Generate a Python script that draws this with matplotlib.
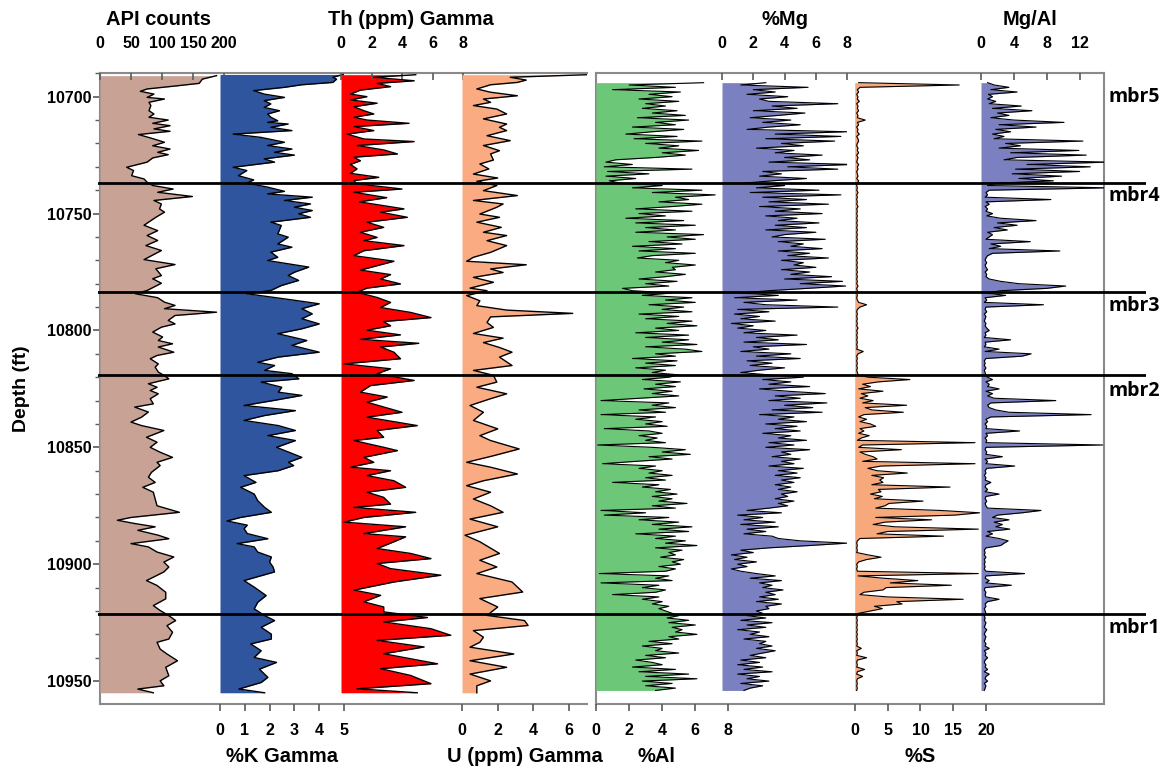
import matplotlib.pyplot as plt
import numpy as np
from matplotlib.transforms import blended_transform_factory

plt.rcParams['font.family'] = ['Liberation Sans', 'DejaVu Sans']
plt.rcParams['font.weight'] = 'bold'

api_depth = [10691, 10692.5, 10694.3, 10695.3, 10696.7, 10697.7, 10698.9, 10700.3, 10701, 10702.4,
             10703.8, 10706, 10707.4, 10708.8, 10710, 10711.4, 10712.4, 10713.8, 10714.8, 10716.2,
             10717.7, 10719.5, 10721, 10722.4, 10723.8, 10724.8, 10726.2, 10728, 10730.2, 10731.6,
             10733.8, 10735.2, 10736.6, 10738, 10739.5, 10740.9, 10742.7, 10744.4, 10745.9, 10748,
             10749.4, 10751.6, 10755, 10757.3, 10759.4, 10761.5, 10763.7, 10765.8, 10769.7, 10771.8,
             10773.6, 10776.5, 10777.9, 10779.8, 10782.9, 10784.3, 10786, 10787.9, 10789.3, 10790.7,
             10792.2, 10793.6, 10795.7, 10797.2, 10798.6, 10800.7, 10802.8, 10804.3, 10805.7, 10807.1,
             10809.3, 10810.7, 10812.1, 10814.3, 10815.7, 10817.8, 10819.2, 10820.7, 10822.8, 10824.3,
             10825.7, 10827.1, 10829.2, 10831.4, 10832.8, 10834.9, 10837.1, 10839.2, 10840.7, 10842.8,
             10845.7, 10847.8, 10850, 10852.1, 10854.3, 10856.4, 10857.8, 10860.7, 10862.8, 10865,
             10867.1, 10869.2, 10872.1, 10875, 10877.8, 10880, 10881.2, 10882.6, 10884, 10885.5,
             10887.6, 10889.1, 10891.2, 10892.6, 10894.8, 10896.9, 10899.1, 10901.2, 10903.3, 10907,
             10909.1, 10912, 10914.8, 10917.7, 10919.8, 10922, 10924.1, 10926.3, 10929.1, 10932,
             10933.4, 10936.3, 10938.4, 10941.3, 10944.1, 10947.7, 10949.9, 10952, 10953.4, 10955]
api = [188, 165, 160, 126, 76, 65, 87, 76, 104, 79,
       82, 79, 87, 79, 110, 85, 113, 87, 113, 62,
       82, 104, 85, 113, 93, 110, 85, 76, 43, 54,
       51, 71, 76, 85, 118, 93, 149, 87, 99, 96,
       104, 90, 71, 93, 76, 93, 74, 99, 71, 121,
       90, 99, 85, 99, 76, 57, 93, 104, 121, 104,
       188, 121, 110, 121, 99, 85, 101, 94, 117, 94,
       119, 92, 81, 94, 89, 94, 103, 111, 78, 92,
       81, 94, 81, 86, 56, 78, 67, 50, 67, 103,
       75, 92, 81, 97, 117, 92, 97, 83, 78, 89,
       69, 86, 89, 92, 128, 50, 28, 56, 89, 61,
       94, 111, 50, 78, 92, 119, 103, 111, 103, 75,
       92, 106, 106, 86, 97, 111, 122, 108, 117, 111,
       92, 97, 108, 125, 106, 111, 97, 103, 61, 86]

k_depth = [10690.5, 10691.7, 10692.5, 10693.9, 10694.9, 10696, 10697.4, 10698.9, 10700.3, 10701.7,
           10703.1, 10704.6, 10706, 10707.4, 10708.8, 10710.3, 10711, 10711.7, 10713.1, 10714.5,
           10716, 10717.4, 10719.5, 10720.9, 10722.4, 10723.8, 10725, 10726.6, 10728, 10730.2,
           10731.6, 10733.8, 10735.6, 10737, 10738.7, 10740.5, 10741.6, 10743, 10744.4, 10745.9,
           10747.3, 10748.7, 10750.1, 10751.6, 10753.7, 10755.1, 10758.7, 10760.1, 10763, 10764.4,
           10766.5, 10768.7, 10770.1, 10772.9, 10775.1, 10776.5, 10778.6, 10780.8, 10782.9, 10784.3,
           10786.5, 10788.6, 10790.7, 10792.9, 10795, 10797.2, 10799.3, 10801.4, 10804.3, 10806.4,
           10809.3, 10811.4, 10813.6, 10815, 10817.1, 10818.5, 10820.7, 10822.1, 10824.3, 10826.4,
           10827.8, 10830, 10832.1, 10834.3, 10836.4, 10838.5, 10840.7, 10842.8, 10845, 10847.1,
           10850, 10854.3, 10856.4, 10857.8, 10860, 10862.1, 10865, 10867.1, 10870, 10872.8,
           10875.7, 10877.8, 10880, 10881.5, 10883.3, 10884.8, 10886.9, 10889.1, 10891.2, 10892.6,
           10894.8, 10896.9, 10899.1, 10901.2, 10903.3, 10907, 10909.8, 10913.4, 10916.3, 10919.1,
           10922, 10924.1, 10927, 10929.9, 10932, 10934.1, 10937, 10939.9, 10942, 10944.9,
           10948.4, 10950.6, 10953.4, 10955]
k_pct = [4.97, 4.55, 4.7, 4.55, 3.3, 2.6, 1.36, 1.78, 2.6, 1.78,
         2.05, 1.78, 2.4, 1.92, 2.05, 2.33, 1.92, 2.75, 2.05, 2.9,
         0.53, 1.64, 2.6, 1.92, 2.9, 2.2, 3.0, 1.78, 2.2, 0.53,
         1.08, 0.74, 1.36, 1.08, 1.92, 2.6, 1.92, 3.72, 2.6, 3.65,
         3.0, 3.72, 3.17, 3.65, 2.05, 2.47, 2.33, 2.75, 2.33, 2.9,
         2.05, 2.33, 1.92, 3.58, 3.0, 2.75, 3.17, 2.47, 2.05, 1.08,
         2.6, 4.0, 3.3, 3.72, 3.3, 4.0, 3.3, 2.33, 3.5, 2.9,
         4.0, 2.35, 1.52, 2.2, 1.8, 2.9, 3.18, 1.66, 2.49, 2.35,
         3.3, 2.14, 0.97, 3.04, 1.8, 0.97, 2.35, 3.04, 1.93, 3.04,
         2.28, 3.3, 2.76, 2.97, 2.35, 0.97, 1.45, 0.83, 1.38, 1.52,
         1.8, 2.07, 0.83, 0.28, 1.1, 0.97, 1.1, 1.93, 0.69, 1.38,
         1.52, 2.07, 2.0, 2.14, 2.2, 0.97, 1.38, 1.86, 1.52, 1.38,
         1.8, 2.2, 1.66, 2.07, 2.07, 1.24, 1.66, 1.38, 2.28, 1.59,
         1.93, 1.66, 0.76, 1.8]

th_depth = [10690.6, 10691.7, 10693.2, 10694.3, 10695.7, 10697.2, 10698.9, 10700, 10701.4, 10702.8,
            10704.3, 10706, 10707.4, 10708.8, 10710, 10711.4, 10712.8, 10714.5, 10716, 10718.1,
            10719.2, 10720.9, 10722.8, 10724.5, 10725.9, 10727.4, 10729, 10730.9, 10732.8, 10734.5,
            10735.9, 10737.3, 10739.5, 10740.9, 10743.2, 10745, 10748, 10749.4, 10751.6, 10753.7,
            10755.9, 10758, 10760.2, 10761.6, 10763.7, 10765.9, 10768, 10770.4, 10772.3, 10774.2,
            10776.1, 10778, 10780.1, 10781.9, 10783.7, 10785.9, 10788, 10790.2, 10792.3, 10794.5,
            10796.2, 10798, 10799.9, 10801.9, 10803.8, 10805.5, 10807.1, 10809.3, 10812.1, 10814.3,
            10816.4, 10818.5, 10821.4, 10823.6, 10826.4, 10828.5, 10830.7, 10835, 10837.1, 10840.7,
            10842.8, 10845.7, 10847.1, 10850, 10851.4, 10854.3, 10856.4, 10858.5, 10860, 10862.1,
            10864.3, 10867.1, 10869.2, 10871.4, 10874.3, 10875.7, 10877.8, 10880, 10882, 10884,
            10886.9, 10888.3, 10890.4, 10893.3, 10895.4, 10897.6, 10899.7, 10901.9, 10904.7, 10907.6,
            10911.1, 10913.3, 10916.1, 10918.3, 10920.4, 10922.8, 10924.7, 10927.6, 10930.4, 10932.6,
            10935.4, 10938.3, 10942.6, 10944.7, 10947.6, 10951.1, 10953.3, 10955]
th_ppm = [4.9, 2.15, 4.8, 2.37, 3.25, 1.27, 0.62, 1.7, 0.62, 2.37,
          0.84, 1.5, 2.15, 0.84, 1.7, 4.46, 0.84, 2.15, 0.4, 1.5,
          4.8, 1.05, 2.81, 3.7, 0.84, 1.27, 0.62, 1.05, 0.62, 2.48,
          0.84, 1.05, 4.0, 0.84, 3.0, 1.2, 4.13, 2.6, 4.35, 1.7,
          2.8, 1.27, 2.37, 1.5, 4.13, 1.5, 0.84, 3.47, 2.37, 1.27,
          3.25, 2.6, 3.9, 1.7, 1.05, 2.37, 3.25, 2.6, 4.57, 5.9,
          2.8, 3.25, 1.7, 3.9, 1.27, 5.1, 2.6, 3.47, 3.9, 0.2,
          3.25, 2.37, 4.8, 1.93, 1.27, 3.03, 1.7, 4.0, 1.7, 5.0,
          2.37, 2.8, 0.84, 2.8, 3.7, 1.5, 2.15, 0.62, 3.25, 1.7,
          3.47, 4.24, 1.7, 2.8, 3.25, 0.84, 4.9, 1.5, 0.2, 4.24,
          1.5, 4.24, 3.47, 2.37, 4.57, 5.9, 2.37, 3.25, 6.55, 3.47,
          0.84, 2.6, 1.5, 2.8, 2.8, 5.67, 2.8, 5.9, 7.2, 2.37,
          5.45, 2.8, 6.33, 2.6, 4.57, 5.9, 1.05, 5.0]

u_depth = [10690.6, 10691.7, 10692.9, 10693.9, 10694.9, 10696.7, 10698.1, 10699.6, 10701, 10702.4,
           10703.8, 10705.3, 10707.4, 10709.5, 10711.7, 10713.1, 10714.5, 10716.7, 10718.8, 10720.9,
           10723.1, 10724.5, 10727.1, 10728.8, 10730.9, 10733.1, 10734.8, 10736.2, 10738, 10740.2,
           10742.3, 10744.4, 10745.9, 10747.3, 10750.2, 10751.6, 10753.7, 10755.9, 10758, 10759.4,
           10761.6, 10763.7, 10766.6, 10768.7, 10770.4, 10771.9, 10773.7, 10775.2, 10777.3, 10779.4,
           10781.9, 10783, 10785.1, 10787.3, 10789.4, 10791.3, 10792.7, 10794.2, 10796.6, 10798.7,
           10801.3, 10803.3, 10805.2, 10807.3, 10809.3, 10811.4, 10815, 10817.1, 10819.2, 10822.1,
           10824.3, 10827.1, 10829.2, 10832.1, 10835, 10838.5, 10842.1, 10845, 10847.1, 10850.7,
           10853.6, 10856.4, 10858.5, 10861.4, 10864.3, 10866.4, 10869.2, 10872.1, 10875, 10877.8,
           10880.7, 10884, 10887.6, 10890.4, 10895.4, 10898.3, 10901.2, 10904, 10907.6, 10911.9,
           10914.7, 10918.3, 10921.9, 10924.1, 10926.2, 10928.4, 10931.2, 10933.4, 10935.5, 10938.4,
           10941.3, 10944.1, 10947, 10949.9, 10952, 10955]
u_ppm = [7.0, 2.7, 3.6, 3.1, 1.6, 0.83, 1.6, 3.1, 1.2, 1.6,
         0.64, 1.95, 2.5, 1.2, 2.5, 2.1, 2.5, 1.4, 2.7, 1.2,
         2.1, 1.6, 1.76, 1.0, 1.5, 0.64, 2.0, 0.83, 1.95, 1.2,
         3.1, 0.64, 2.3, 1.95, 1.0, 2.1, 0.83, 2.2, 1.2, 2.5,
         1.4, 2.5, 1.6, 0.64, 0.26, 3.6, 1.6, 2.3, 0.64, 1.76,
         0.45, 1.4, 0.26, 1.0, 0.83, 2.5, 6.2, 1.6, 1.4, 1.76,
         0.64, 2.3, 1.2, 2.1, 2.8, 2.1, 2.8, 0.64, 1.76, 1.95,
         0.83, 2.5, 1.6, 0.45, 1.2, 0.64, 2.0, 1.0, 1.6, 3.2,
         1.76, 0.26, 1.6, 3.1, 1.2, 0.26, 1.6, 0.64, 1.6, 2.3,
         0.45, 2.0, 0.17, 1.0, 2.1, 1.0, 1.95, 0.83, 2.8, 3.4,
         1.0, 2.0, 1.4, 3.5, 3.7, 0.64, 1.2, 1.0, 0.45, 2.9,
         0.45, 2.5, 0.45, 1.6, 0.83, 0.83]

# ---- XRF chemostratigraphy, one reading per foot from 10694 to 10954 ft ----
xrf_depth = np.arange(10694, 10955)
al_pct = [6.5, 2.0, 4.8, 1.0, 5.1, 3.2, 4.6, 2.6, 5.0, 3.0,
          4.2, 2.8, 4.9, 3.4, 5.4, 2.5, 5.6, 3.6, 4.8, 2.2,
          5.3, 3.4, 1.8, 4.9, 2.3, 6.4, 3.0, 5.0, 3.8, 6.2,
          4.0, 5.4, 3.6, 1.2, 0.6, 2.2, 0.5, 5.8, 0.7, 3.2,
          0.6, 2.4, 0.8, 1.5, 4.0, 2.2, 6.4, 3.4, 7.2, 4.8,
          5.6, 3.8, 6.4, 4.6, 2.4, 5.8, 2.6, 4.2, 1.8, 5.3,
          2.4, 6.0, 3.0, 4.8, 2.4, 6.5, 4.3, 6.0, 3.2, 5.2,
          2.2, 4.8, 2.6, 6.0, 3.4, 2.5, 5.0, 4.2, 6.0, 4.6,
          4.8, 3.6, 5.4, 4.2, 2.6, 4.9, 3.0, 4.4, 1.6, 2.2,
          4.6, 2.8, 5.8, 4.2, 6.0, 3.2, 5.3, 4.0, 5.8, 2.6,
          5.0, 3.0, 5.8, 4.3, 6.1, 3.6, 5.0, 2.4, 5.6, 3.0,
          5.6, 4.0, 6.1, 3.0, 5.4, 6.4, 3.6, 4.8, 2.2, 4.9,
          3.0, 4.8, 2.4, 4.2, 3.4, 5.0, 4.4, 2.8, 5.1, 3.6,
          4.8, 2.9, 4.6, 3.4, 5.0, 2.6, 0.3, 4.4, 3.4, 4.8,
          2.6, 4.2, 0.3, 3.6, 2.4, 4.0, 3.0, 4.3, 0.5, 3.2,
          4.0, 2.6, 3.7, 3.0, 4.2, 0.1, 3.4, 5.4, 4.0, 5.7,
          3.2, 4.6, 2.4, 0.4, 3.6, 2.6, 4.0, 3.2, 4.6, 3.0,
          4.2, 1.0, 3.8, 2.8, 4.5, 3.6, 4.9, 3.4, 4.6, 3.8,
          5.5, 3.4, 4.8, 0.3, 3.0, 0.5, 4.4, 2.6, 5.0, 3.4,
          5.8, 3.8, 5.6, 2.4, 4.8, 3.6, 5.4, 4.2, 6.1, 3.6,
          5.2, 4.4, 4.8, 3.9, 5.3, 4.6, 5.1, 3.8, 4.8, 4.2,
          0.2, 4.4, 3.6, 4.6, 0.3, 3.8, 2.8, 4.2, 3.6, 1.0,
          3.8, 2.8, 4.0, 3.4, 4.4, 3.8, 4.2, 4.6, 5.0, 4.3,
          5.6, 4.4, 6.0, 4.6, 5.2, 4.8, 6.1, 4.4, 5.0, 3.2,
          4.6, 2.8, 4.0, 3.6, 5.0, 3.0, 4.2, 2.4, 3.4, 4.0,
          2.2, 4.8, 2.6, 5.6, 3.0, 6.1, 2.8, 4.6, 3.0, 4.8,
          3.6]
mg_pct = [2.8, 1.2, 5.5, 2.0, 3.4, 1.6, 4.2, 2.4, 3.0, 7.4,
          3.2, 4.8, 2.0, 5.3, 3.6, 1.8, 4.4, 2.6, 5.0, 3.0,
          1.6, 8.0, 3.4, 7.6, 2.8, 7.2, 3.8, 5.2, 2.2, 4.6,
          3.4, 6.4, 4.0, 5.6, 3.0, 8.3, 4.2, 7.4, 2.6, 3.8,
          2.4, 5.4, 3.2, 1.4, 4.0, 2.2, 6.2, 1.8, 7.6, 2.6,
          5.4, 3.0, 6.8, 2.4, 5.0, 3.4, 6.4, 2.8, 4.8, 3.6,
          6.2, 3.4, 5.4, 2.8, 6.0, 4.0, 3.2, 6.6, 3.6, 5.2,
          4.4, 6.4, 3.6, 5.6, 4.2, 6.8, 3.8, 5.2, 4.6, 6.0,
          3.8, 5.6, 4.4, 7.0, 4.0, 7.7, 5.0, 7.9, 5.4, 3.0,
          1.2, 3.6, 0.8, 4.8, 1.4, 2.8, 7.4, 1.0, 3.0, 0.8,
          2.4, 1.2, 3.4, 0.6, 2.0, 1.0, 2.8, 1.4, 4.8, 2.2,
          3.6, 1.4, 5.4, 2.0, 3.0, 1.2, 4.4, 2.2, 5.0, 1.6,
          3.2, 1.8, 4.0, 2.4, 1.2, 3.0, 5.2, 2.6, 4.4, 3.0,
          5.6, 2.4, 4.2, 6.6, 3.4, 5.0, 3.0, 6.7, 4.0, 5.8,
          3.2, 6.4, 2.4, 4.6, 3.6, 5.4, 2.8, 4.8, 3.4, 5.0,
          2.6, 4.4, 3.6, 5.4, 3.0, 4.6, 2.8, 5.6, 3.8, 4.4,
          3.2, 5.0, 3.8, 4.6, 3.0, 5.2, 3.6, 4.8, 3.4, 5.0,
          3.8, 4.6, 3.4, 4.4, 3.6, 4.8, 3.8, 4.2, 3.4, 4.6,
          3.6, 4.2, 3.0, 1.6, 3.8, 1.0, 2.6, 1.4, 3.4, 1.2,
          3.6, 1.6, 2.8, 1.4, 3.2, 3.6, 5.0, 8.0, 5.6, 3.0,
          1.2, 2.0, 0.6, 1.6, 0.8, 2.2, 1.0, 1.6, 0.6, 1.2,
          2.2, 3.4, 1.8, 3.8, 2.4, 3.2, 2.6, 3.9, 2.8, 3.4,
          2.4, 3.6, 2.2, 3.8, 2.8, 3.0, 2.2, 2.6, 1.6, 2.8,
          1.2, 3.2, 1.6, 2.8, 1.0, 2.4, 1.8, 3.0, 1.4, 2.8,
          2.4, 3.2, 2.2, 3.4, 2.6, 1.8, 2.8, 1.2, 2.4, 1.0,
          2.6, 1.4, 3.2, 1.0, 2.4, 1.6, 3.0, 1.2, 2.6, 1.8,
          1.4]
s_pct = [0.6, 15.9, 0.8, 0.4, 0.6, 0.3, 0.5, 0.4, 0.7, 0.3,
         0.5, 0.4, 0.6, 0.3, 0.5, 0.4, 1.6, 0.4, 0.6, 0.3,
         0.5, 0.4, 0.7, 0.3, 0.5, 0.6, 0.4, 0.3, 0.5, 0.4,
         0.6, 0.3, 0.5, 0.4, 0.3, 0.6, 0.4, 0.5, 0.3, 0.4,
         0.5, 0.3, 0.6, 0.4, 0.3, 0.4, 0.3, 0.5, 0.3, 0.4,
         0.3, 0.4, 0.3, 0.5, 0.3, 0.4, 0.3, 0.4, 0.3, 0.4,
         0.3, 0.4, 0.3, 0.4, 0.3, 0.4, 0.3, 0.4, 0.3, 0.4,
         0.3, 0.4, 0.3, 0.4, 0.3, 0.4, 0.3, 0.4, 0.3, 0.4,
         0.3, 0.4, 0.3, 0.4, 0.3, 0.4, 0.3, 0.5, 0.3, 0.4,
         0.3, 0.4, 0.3, 0.4, 0.6, 1.8, 0.8, 0.4, 0.3, 0.4,
         0.3, 0.4, 0.3, 0.4, 0.3, 0.5, 0.3, 0.4, 0.3, 0.4,
         0.3, 0.4, 0.3, 0.4, 0.3, 1.3, 0.5, 0.3, 0.4, 0.3,
         0.4, 0.3, 0.4, 0.3, 0.4, 0.5, 2.0, 8.4, 3.6, 1.2,
         2.4, 0.6, 4.3, 1.0, 2.0, 0.8, 2.8, 1.2, 7.9, 1.6,
         2.6, 7.4, 1.4, 0.6, 1.8, 0.8, 2.4, 3.2, 0.8, 1.4,
         0.6, 2.2, 1.0, 0.4, 18.3, 1.2, 0.6, 7.1, 0.8, 1.6,
         2.8, 3.4, 1.2, 18.3, 4.0, 2.0, 3.4, 8.0, 2.6, 4.4,
         3.8, 4.3, 2.6, 14.5, 3.6, 4.0, 2.4, 4.2, 3.0, 10.4,
         5.2, 4.6, 3.2, 13.0, 19.0, 15.2, 3.2, 11.7, 4.6, 2.8,
         6.1, 18.8, 5.0, 3.4, 13.5, 0.8, 0.4, 0.3, 0.4, 0.3,
         0.4, 0.3, 2.0, 4.0, 1.8, 0.6, 0.3, 0.4, 0.3, 0.4,
         18.8, 0.5, 4.4, 9.6, 5.4, 14.7, 4.8, 4.3, 1.4, 0.8,
         5.0, 16.5, 6.4, 7.2, 3.0, 4.2, 2.4, 0.6, 0.4, 0.3,
         0.4, 0.3, 0.4, 0.3, 0.4, 0.3, 0.4, 0.3, 0.4, 0.3,
         0.4, 0.3, 1.0, 0.3, 0.4, 0.3, 1.8, 0.4, 0.3, 0.4,
         0.3, 1.5, 0.4, 0.3, 1.2, 0.4, 0.3, 0.4, 0.3, 0.4,
         0.3]
mg_al = [0.8, 1.6, 3.4, 1.2, 4.4, 0.9, 1.4, 0.8, 1.8, 1.0,
         4.9, 1.4, 6.2, 2.0, 3.4, 1.2, 4.0, 10.1, 2.2, 6.7,
         1.8, 3.6, 1.4, 2.8, 1.6, 12.4, 3.0, 4.8, 2.2, 11.9,
         3.6, 12.8, 4.4, 2.8, 15.5, 5.6, 13.3, 4.2, 12.0, 3.8,
         9.8, 4.6, 8.8, 1.8, 0.8, 15.5, 1.0, 0.6, 0.8, 0.5,
         8.5, 0.6, 1.0, 0.5, 0.8, 0.6, 1.4, 0.7, 2.4, 6.7,
         2.0, 4.4, 1.6, 3.2, 0.8, 1.4, 1.0, 0.6, 6.0, 1.2,
         2.4, 1.0, 9.6, 1.4, 0.8, 0.6, 0.5, 0.7, 0.5, 0.6,
         0.8, 0.5, 0.7, 0.6, 1.0, 2.4, 4.6, 10.3, 8.0, 2.4,
         0.6, 3.0, 0.5, 0.7, 0.4, 7.6, 0.6, 0.5, 0.7, 0.4,
         0.6, 0.5, 0.4, 0.6, 0.5, 0.7, 1.0, 0.5, 0.6, 0.4,
         3.6, 0.5, 0.6, 0.4, 2.2, 0.5, 6.1, 5.0, 0.6, 0.4,
         0.5, 0.4, 0.6, 0.4, 0.5, 0.6, 0.8, 1.4, 0.6, 1.0,
         0.8, 2.2, 0.6, 1.4, 0.8, 1.6, 9.1, 1.2, 0.8, 1.0,
         1.8, 3.4, 13.4, 1.2, 0.6, 0.8, 0.5, 0.7, 0.6, 4.7,
         0.6, 0.8, 0.5, 0.7, 0.6, 14.8, 0.6, 0.5, 0.7, 0.6,
         2.6, 0.5, 0.8, 0.6, 4.1, 0.7, 0.5, 0.6, 0.4, 0.6,
         0.5, 1.2, 0.6, 0.5, 0.8, 0.5, 2.2, 0.6, 0.5, 0.7,
         0.5, 0.6, 0.8, 7.3, 5.0, 2.0, 1.4, 3.4, 1.6, 2.6,
         1.8, 3.5, 0.8, 1.4, 0.6, 2.2, 3.3, 2.8, 2.4, 0.6,
         0.4, 0.5, 0.4, 0.6, 0.4, 0.5, 0.4, 0.5, 0.4, 0.6,
         5.3, 0.6, 0.5, 1.0, 0.6, 3.7, 0.5, 0.4, 0.6, 0.5,
         0.6, 2.2, 0.8, 0.5, 0.6, 0.4, 0.5, 0.6, 0.4, 0.5,
         0.4, 0.6, 0.5, 0.4, 0.7, 0.5, 0.4, 0.6, 0.5, 0.4,
         0.6, 0.5, 1.0, 0.4, 0.6, 0.5, 0.8, 0.5, 0.4, 0.6,
         0.5, 0.8, 0.4, 1.0, 0.6, 0.5, 0.8, 0.4, 0.6, 0.5,
         0.4]

# member tops and label depths
mbr_tops = [10737, 10783.5, 10819.2, 10921.1]
mbr_names = ['mbr5', 'mbr4', 'mbr3', 'mbr2', 'mbr1']
mbr_label_depth = [10700, 10742.5, 10789.5, 10825.8, 10927.5]

# ---- layout (figure pixels) ----
W, H = 1166, 767
TOP, BOT = 73.3, 704
fig = plt.figure(figsize=(W / 100, H / 100), dpi=100)
SPINE = '#8a8a8a'
TICK = '#5a5a5a'


def rect(x0, x1):
    return [x0 / W, (H - BOT) / H, (x1 - x0) / W, (BOT - TOP) / H]


left = fig.add_axes(rect(100, 587))
left.set_ylim(10959.8, 10690.3)
left.set_xticks([])
left.spines['right'].set_visible(False)
for s in ('left', 'top', 'bottom'):
    left.spines[s].set_color(SPINE)
    left.spines[s].set_linewidth(1.5)
left.set_yticks(np.arange(10700, 10951, 50))
left.set_yticks(np.arange(10690, 10960, 10), minor=True)
left.tick_params(axis='y', which='major', length=5, width=1.2, color=TICK, labelsize=11.5, pad=1)
left.tick_params(axis='y', which='minor', length=3.5, width=1, color=TICK)
left.set_ylabel('Depth (ft)', fontsize=14, fontweight='bold', labelpad=12)

right = fig.add_axes(rect(596, 1104), sharey=left)
right.set_xticks([])
right.tick_params(axis='y', which='both', left=False, labelleft=False)
for s in right.spines.values():
    s.set_color(SPINE)
    s.set_linewidth(1.5)


def track(x0, x1, xmax, ticks, side, title, title_x=0.5):
    ax = fig.add_axes(rect(x0, x1), sharey=left)
    ax.patch.set_visible(False)
    for s in ax.spines.values():
        s.set_visible(False)
    ax.set_xlim(0, xmax)
    ax.set_xticks(ticks)
    ax.tick_params(axis='y', which='both', left=False, labelleft=False)
    if side == 'top':
        ax.tick_params(axis='x', bottom=False, labelbottom=False, top=True, labeltop=True,
                       direction='in', length=5, width=1.2, color=TICK, labelsize=11.5, pad=16)
        ax.xaxis.set_label_position('top')
        ax.set_xlabel(title, fontsize=14.5, fontweight='bold', labelpad=8)
    else:
        ax.tick_params(axis='x', direction='out', length=5, width=1.2, color=TICK,
                       labelsize=11.5, pad=9)
        ax.set_xlabel(title, fontsize=14.5, fontweight='bold', labelpad=6)
    ax.xaxis.label.set_x(title_x)
    return ax


def log_fill(ax, depth, vals, color, lw):
    ax.fill_betweenx(depth, 0, vals, color=color, lw=0)
    ax.plot(vals, depth, color='black', lw=lw)


ax_api = track(100, 224, 200, [0, 50, 100, 150, 200], 'top', 'API counts', 0.47)
log_fill(ax_api, api_depth, api, '#c9a296', 1.0)
ax_k = track(220, 344, 5, [0, 1, 2, 3, 4, 5], 'bottom', '%K Gamma')
log_fill(ax_k, k_depth, k_pct, '#2f559f', 1.0)
ax_th = track(341, 463, 8, [0, 2, 4, 6, 8], 'top', 'Th (ppm) Gamma', 0.57)
log_fill(ax_th, th_depth, th_ppm, '#ff0000', 1.0)
ax_u = track(462, 587, 7, [0, 2, 4, 6], 'bottom', 'U (ppm) Gamma')
log_fill(ax_u, u_depth, u_ppm, '#fbab82', 1.0)

ax_al = track(596, 728.4, 8, [0, 2, 4, 6, 8], 'bottom', '%Al', 0.455)
log_fill(ax_al, xrf_depth, al_pct, '#6cc878', 0.8)
ax_mg = track(722, 847.2, 8, [0, 2, 4, 6, 8], 'top', '%Mg')
log_fill(ax_mg, xrf_depth, mg_pct, '#7b80c0', 0.8)
ax_s = track(854.7, 986.2, 20, [0, 5, 10, 15, 20], 'bottom', '%S')
log_fill(ax_s, xrf_depth, s_pct, '#f8a97c', 0.8)
ax_ma = track(981, 1104.3, 15, [0, 4, 8, 12], 'top', 'Mg/Al', 0.40)
log_fill(ax_ma, xrf_depth, mg_al, '#7b80c0', 0.8)

# member boundaries across both panels
over = fig.add_axes(rect(98, 1146), sharey=left)
over.axis('off')
for d in mbr_tops:
    over.axhline(d, color='black', lw=2.0)

tr = blended_transform_factory(right.transAxes, right.transData)
for name, d in zip(mbr_names, mbr_label_depth):
    right.text(1.008, d, name, transform=tr, ha='left', va='center',
               fontsize=14, fontweight='bold', family=['Open Sans', 'DejaVu Sans'])

fig.savefig('out.png', dpi=100)
